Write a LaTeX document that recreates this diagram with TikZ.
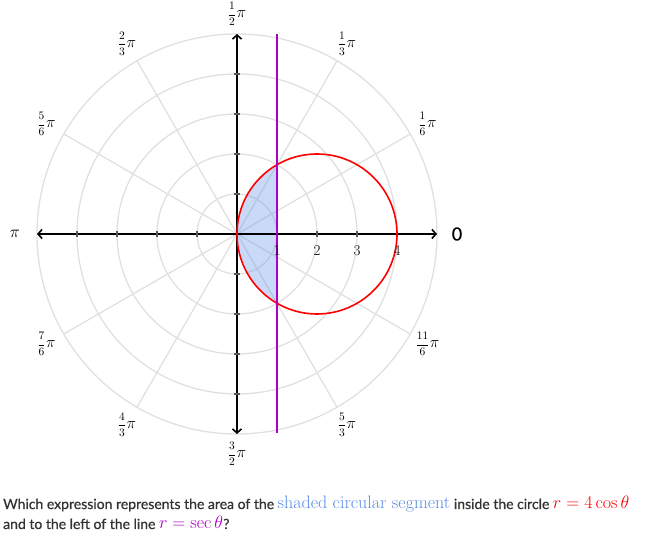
\RequirePackage{fix-cm}
\documentclass[tikz,border=0pt]{standalone}
\usepackage{fontspec}
\usepackage{amsmath}
\usetikzlibrary{arrows.meta}
\newfontfamily\lato[FakeBold=0.7]{Lato}
\definecolor{gridgray}{RGB}{224,224,224}
\definecolor{tickgray}{RGB}{90,90,90}
\definecolor{shadeblue}{RGB}{100,149,237}
\definecolor{txtblue}{RGB}{90,140,230}
\definecolor{linepurple}{RGB}{170,0,200}
\definecolor{txtgray}{RGB}{51,51,51}
\tikzset{
  gridline/.style={draw=gridgray, line width=1.3pt},
  axisline/.style={draw=black, line width=1.6pt, {Straight Barb[length=4pt,width=9pt,line width=1.6pt]}-{Straight Barb[length=4pt,width=9pt,line width=1.6pt]}},
  tickmark/.style={draw=tickgray, line width=1.3pt},
  anglab/.style={font=\fontsize{11.5}{13}\selectfont, inner sep=0pt},
  numlab/.style={font=\fontsize{15}{17}\selectfont, inner sep=0pt},
  sentence/.style={font=\lato\fontsize{14}{16}\selectfont, text=txtgray, inner sep=0pt, anchor=base west}
}
\newcommand{\mjx}[1]{{\fontsize{18}{20}\selectfont #1}}
\newcommand{\angfrac}[2]{$\dfrac{#1}{#2}$\kern0.5pt{\fontsize{16}{18}\selectfont$\pi$}}
\begin{document}
\begin{tikzpicture}[x=1pt,y=1pt]
\useasboundingbox (0,0) rectangle (649,546);
\begin{scope}[shift={(237,312)}, x=40pt, y=40pt]
  % polar grid
  \foreach \r in {1,2,3,4,5} \draw[gridline] (0,0) circle (\r);
  \foreach \a in {0,30,...,330} \draw[gridline] (0,0) -- (\a:5);
  % shaded segment
  \fill[shadeblue, fill opacity=0.35] (1,{sqrt(3)}) arc[start angle=120, end angle=240, radius=2] -- cycle;
  % axes
  \coordinate (W) at (-5,0); \coordinate (E) at (5,0);
  \coordinate (S) at (0,-5); \coordinate (N) at (0,5);
  \draw[axisline] (W) -- (E);
  \draw[axisline] (S) -- (N);
  \foreach \k in {-4,-3,-2,-1,1,2,3,4} {
    \draw[tickmark] (\k,-0.08) -- (\k,0.08);
    \draw[tickmark] (-0.08,\k) -- (0.08,\k);
  }
  % red circle r = 4 cos theta
  \draw[red, line width=1.6pt] (2,0) circle (2);
  % purple line r = sec theta
  \coordinate (P1) at (1,-4.97); \coordinate (P2) at (1,5.0);
  \draw[linepurple, line width=1.6pt] (P1) -- (P2);
  % number labels
  \foreach \k in {1,2,3,4} \node[numlab] (n\k) at (\k,-0.42) {\k};
  % angle labels
  \node[inner sep=0pt, font=\lato\fontsize{18}{20}\selectfont] (a0) at (0:5.5) {0};
  \node[anglab] (a1) at (30:5.5) {\angfrac{1}{6}};
  \node[anglab] (a2) at (60:5.5) {\angfrac{1}{3}};
  \node[anglab] (a3) at (90:5.5) {\angfrac{1}{2}};
  \node[anglab] (a4) at (120:5.5) {\angfrac{2}{3}};
  \node[anglab] (a5) at (150:5.5) {\angfrac{5}{6}};
  \node[inner sep=0pt, font=\fontsize{17}{19}\selectfont] (a6) at (180:5.55) {$\pi$};
  \node[anglab] (a7) at (210:5.5) {\angfrac{7}{6}};
  \node[anglab] (a8) at (240:5.5) {\angfrac{4}{3}};
  \node[anglab] (a9) at (270:5.5) {\angfrac{3}{2}};
  \node[anglab] (a10) at (300:5.5) {\angfrac{5}{3}};
  \node[anglab] (a11) at (330:5.5) {\angfrac{11}{6}};
\end{scope}
\node[sentence] (q1) at (3,37) {Which expression represents the area of the \mjx{\rmfamily\color{txtblue}shaded circular segment} inside the circle \mjx{\color{red}$r=4\cos\theta$}};
\node[sentence] (q2) at (3,17) {and to the left of the line \mjx{\color{linepurple}$r=\sec\theta$}?};
\end{tikzpicture}
\end{document}
